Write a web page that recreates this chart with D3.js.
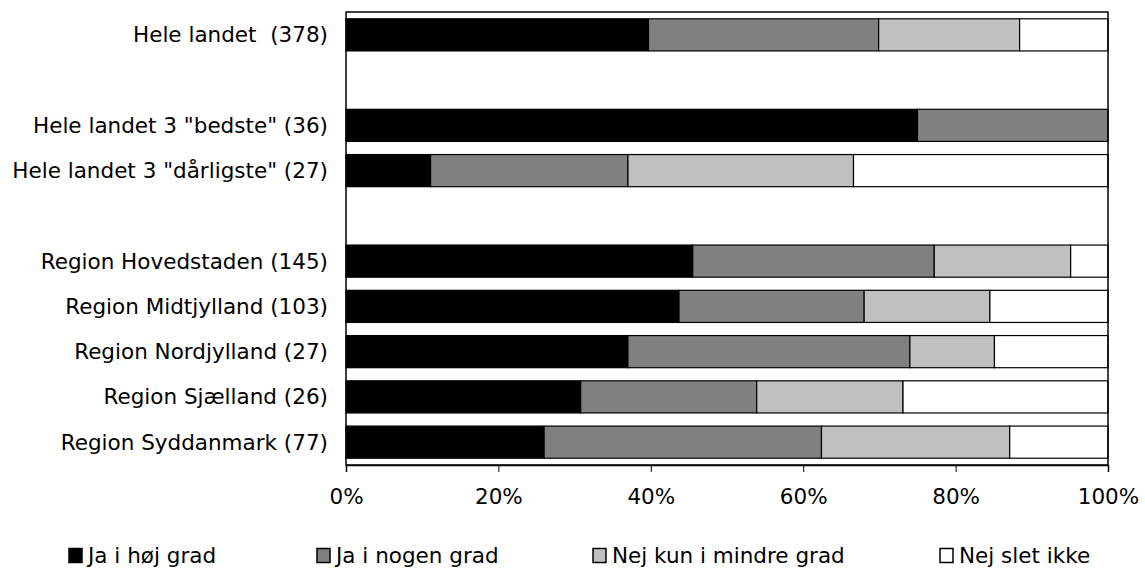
<!DOCTYPE html>
<html>
<head>
<meta charset="utf-8">
<script src="https://cdn.jsdelivr.net/npm/d3@7"></script>
<style>
  body { margin: 0; background: #fff; }
  svg { display: block; font-family: "DejaVu Sans", Verdana, sans-serif; }
</style>
</head>
<body>
<div id="chart"></div>
<script>
// rows, blank strings are the empty gap rows
var categories = ['Hele landet  (378)', '', 'Hele landet 3 "bedste" (36)', 'Hele landet 3 "dårligste" (27)', ' ',
    'Region Hovedstaden (145)', 'Region Midtjylland (103)', 'Region Nordjylland (27)', 'Region Sjælland (26)', 'Region Syddanmark (77)'];
var series_names = ['Ja i høj grad', 'Ja i nogen grad', 'Nej kun i mindre grad', 'Nej slet ikke'];
var series_colors = ['#000000', '#808080', '#c0c0c0', '#ffffff'];
// percent per row (null = gap row)
var ja_hoj = [39.7, null, 75.0, 11.1, null, 45.5, 43.7, 37.0, 30.8, 26.0];
var ja_nogen = [30.2, null, 25.0, 25.9, null, 31.7, 24.3, 37.0, 23.1, 36.4];
var nej_mindre = [18.5, null, 0, 29.6, null, 17.9, 16.5, 11.1, 19.2, 24.7];
var nej_slet = [11.6, null, 0, 33.4, null, 4.9, 15.5, 14.9, 26.9, 12.9];
var x_ticks = [0, 20, 40, 60, 80, 100];

var width = 1145, height = 570;
var margin = {left: 346, right: 37, top: 12, bottom: 105};
var font_size = 21.5;

var svg = d3.select('#chart').append('svg').attr('width', width).attr('height', height);

var x_scale = d3.scaleLinear().domain([0, 100]).range([margin.left, width - margin.right]);
var y_scale = d3.scaleBand().domain(categories).range([margin.top, height - margin.bottom]).paddingInner(0.29).paddingOuter(0.15);

var rows = categories.map((c, i) => ({cat: c, vals: [ja_hoj[i], ja_nogen[i], nej_mindre[i], nej_slet[i]]}));
var stack_data = rows.filter(r => r.vals[0] !== null);

var main_group = svg.append('g');
stack_data.forEach(row => {
    var start = 0;
    row.vals.forEach((v, j) => {
        if (v > 0) {
            main_group.append('rect')
                .attr('x', x_scale(start))
                .attr('y', y_scale(row.cat))
                .attr('width', x_scale(start + v) - x_scale(start))
                .attr('height', y_scale.bandwidth())
                .attr('fill', series_colors[j])
                .attr('stroke', '#000')
                .attr('stroke-width', 1.2);
        }
        start += v;
    });
});

// plot frame
svg.append('rect')
    .attr('x', x_scale(0)).attr('y', margin.top)
    .attr('width', x_scale(100) - x_scale(0))
    .attr('height', height - margin.bottom - margin.top)
    .attr('fill', 'none').attr('stroke', '#000').attr('stroke-width', 1.5);

// x axis
var x_axis = svg.append('g')
    .attr('transform', `translate(0,${height - margin.bottom})`)
    .call(d3.axisBottom(x_scale).tickValues(x_ticks).tickFormat(d => d + '%').tickSize(7).tickPadding(17));
x_axis.select('.domain').attr('stroke-width', 1.5);
x_axis.selectAll('text').attr('font-size', font_size).attr('fill', '#000').attr('font-family', '"DejaVu Sans", Verdana, sans-serif');

// y labels
svg.append('g').selectAll('text')
    .data(categories.filter(c => c.trim() !== ''))
    .join('text')
    .attr('x', 328)
    .attr('y', d => y_scale(d) + y_scale.bandwidth() / 2)
    .attr('dy', '0.35em')
    .attr('text-anchor', 'end')
    .attr('font-size', font_size)
    .attr('fill', '#000')
    .style('white-space', 'pre')
    .text(d => d);

// legend
var legend_x = [69, 317, 593, 940];
var legend = svg.append('g');
series_names.forEach((name, i) => {
    legend.append('rect')
        .attr('x', legend_x[i]).attr('y', 548.5)
        .attr('width', 13).attr('height', 14)
        .attr('fill', series_colors[i]).attr('stroke', '#000').attr('stroke-width', 1.5);
    legend.append('text')
        .attr('x', legend_x[i] + 19).attr('y', 555)
        .attr('dy', '0.35em')
        .attr('font-size', font_size)
        .text(name);
});
</script>
</body>
</html>
